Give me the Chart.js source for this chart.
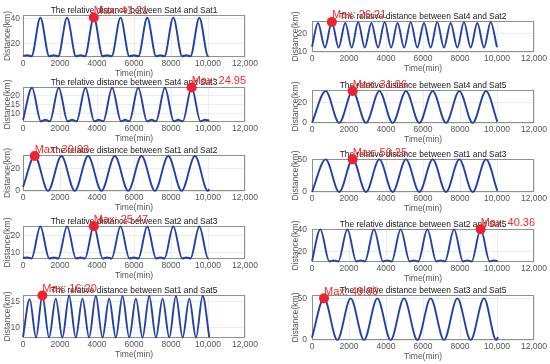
<!DOCTYPE html>
<html>
<head>
<meta charset="utf-8">
<script src="https://cdn.jsdelivr.net/npm/chart.js@4.4.1/dist/chart.umd.min.js"></script>
<style>
  html, body { margin: 0; padding: 0; background: #fff; }
  #fig { position: relative; width: 550px; height: 364px; overflow: hidden; }
  #fig canvas { position: absolute; }
</style>
</head>
<body>
<div id="fig"></div>
<script>
// shared x axis
const xTickValues = [0, 2000, 4000, 6000, 8000, 10000, 12000];
const xTickLabels = ['0', '2000', '4000', '6000', '8000', '10,000', '12,000'];

// Sat4 - Sat1
const t41 = [0, 250, 458, 938, 1418, 1660, 1903, 2383, 2863, 3105, 3347, 3827, 4307, 4549, 4791, 5271, 5751, 5993, 6235, 6715, 7195, 7419, 7643, 8123, 8603, 8827, 9051, 9531, 10011, 10040];
const d41 = [10.2, 10.7, 9.9, 41.0, 9.9, 10.7, 9.9, 41.1, 9.9, 10.7, 9.9, 41.21, 9.9, 10.7, 9.9, 41.1, 9.9, 10.7, 9.9, 41.0, 9.9, 10.7, 9.9, 41.1, 9.9, 10.7, 9.9, 41.0, 9.9, 10.0];
const y41 = [20, 40];

// Sat4 - Sat3
const t43 = [0, 487, 967, 1209, 1451, 1931, 2411, 2653, 2895, 3375, 3855, 4097, 4339, 4819, 5299, 5523, 5747, 6227, 6707, 6949, 7191, 7671, 8151, 8393, 8635, 9115, 9595, 9830, 10070];
const d43 = [6.0, 24.8, 5.3, 6.2, 5.3, 24.8, 5.3, 6.2, 5.3, 24.8, 5.3, 6.2, 5.3, 24.8, 5.3, 6.2, 5.3, 24.8, 5.3, 6.2, 5.3, 24.8, 5.3, 6.2, 5.3, 24.95, 5.3, 6.2, 5.7];
const y43 = [10, 15, 20];

// Sat1 - Sat2
const t12 = [0, 632, 1354, 2076, 2798, 3520, 4242, 4964, 5686, 6408, 7130, 7852, 8574, 9296, 9990, 10072];
const d12 = [3.5, 30.93, 0.2, 30.9, 0.2, 30.9, 0.2, 30.9, 0.2, 30.9, 0.2, 30.9, 0.2, 30.9, 0.2, 1.5];
const y12 = [0, 20];

// Sat2 - Sat3
const t23 = [0, 250, 458, 938, 1418, 1660, 1903, 2383, 2863, 3105, 3347, 3827, 4307, 4549, 4791, 5271, 5751, 5993, 6235, 6715, 7195, 7419, 7643, 8123, 8603, 8827, 9051, 9531, 10011, 10040];
const d23 = [6.6, 6.9, 6.3, 25.3, 6.3, 6.9, 6.3, 25.4, 6.3, 6.9, 6.3, 25.47, 6.3, 6.9, 6.3, 25.4, 6.3, 6.9, 6.3, 25.3, 6.3, 6.9, 6.3, 25.4, 6.3, 6.9, 6.3, 25.3, 6.3, 6.4];
const y23 = [10, 20];

// Sat1 - Sat5
const t15 = [0, 361, 704, 1047, 1408, 1769, 2130, 2491, 2852, 3213, 3574, 3935, 4296, 4657, 5018, 5379, 5740, 6101, 6462, 6823, 7184, 7545, 7906, 8267, 8628, 8989, 9350, 9711, 10072];
const d15 = [8.1, 15.5, 8.0, 16.2, 8.0, 15.6, 8.0, 16.15, 8.0, 15.6, 8.0, 16.1, 8.0, 15.6, 8.0, 16.1, 8.0, 15.6, 8.0, 16.1, 8.0, 15.6, 8.0, 16.1, 8.0, 15.6, 8.0, 16.1, 8.0];
const y15 = [10, 15];

// Sat4 - Sat2
const t42 = [0, 324, 700, 1075, 1437, 1800, 2147, 2495, 2852, 3210, 3569, 3928, 4276, 4625, 4980, 5335, 5694, 6054, 6412, 6770, 7132, 7495, 7855, 8216, 8576, 8937, 9297, 9658, 10000];
const d42 = [12.8, 25.6, 12.4, 26.21, 12.4, 25.6, 12.4, 26.1, 12.4, 25.6, 12.4, 26.1, 12.4, 25.6, 12.4, 26.1, 12.4, 25.6, 12.4, 26.1, 12.4, 25.6, 12.4, 26.1, 12.4, 25.6, 12.4, 26.1, 12.6];
const y42 = [10, 20];

// Sat4 - Sat5
const t45 = [0, 740, 1470, 2198, 2919, 3640, 4360, 5081, 5802, 6523, 7243, 7964, 8685, 9405, 10018];
const d45 = [0.3, 31.0, 0.1, 31.06, 0.1, 31.0, 0.1, 31.0, 0.1, 31.0, 0.1, 31.0, 0.1, 31.0, 1.2];
const y45 = [0, 20];

// Sat1 - Sat3
const t13 = [0, 740, 1470, 2198, 2919, 3640, 4360, 5081, 5802, 6523, 7243, 7964, 8685, 9405, 10018];
const d13 = [0.3, 50.2, 0.1, 50.25, 0.1, 50.2, 0.1, 50.2, 0.1, 50.2, 0.1, 50.2, 0.1, 50.2, 2.0];
const y13 = [0, 50];

// Sat2 - Sat5
const t25 = [0, 450, 940, 1180, 1420, 1910, 2400, 2630, 2861, 3351, 3840, 4070, 4303, 4793, 5283, 5510, 5744, 6234, 6724, 6955, 7186, 7676, 8166, 8397, 8627, 9117, 9607, 9830, 10036];
const d25 = [11.2, 40.2, 10.8, 11.8, 10.8, 40.2, 10.8, 11.8, 10.8, 40.2, 10.8, 11.8, 10.8, 40.2, 10.8, 11.8, 10.8, 40.2, 10.8, 11.8, 10.8, 40.2, 10.8, 11.8, 10.8, 40.36, 10.8, 11.8, 11.0];
const y25 = [20, 40];

// Sat3 - Sat5
const t35 = [0, 649, 1369, 2090, 2811, 3532, 4252, 4973, 5694, 6414, 7135, 7856, 8577, 9297, 9960, 10054];
const d35 = [3.0, 49.99, 0.1, 49.9, 0.1, 49.9, 0.1, 49.9, 0.1, 49.9, 0.1, 49.9, 0.1, 49.9, 0.1, 3.5];
const y35 = [0, 50];

// max markers (time, distance)
const maxTimes  = [3827, 9115, 632, 3827, 1047, 1075, 2198, 2198, 9117, 649];
const maxValues = [41.21, 24.95, 30.93, 25.47, 16.20, 26.21, 31.06, 50.25, 40.36, 49.99];

const titulos = [
    'The relative distance between Sat4 and Sat1',
    'The relative distance between Sat4 and Sat3',
    'The relative distance between Sat1 and Sat2',
    'The relative distance between Sat2 and Sat3',
    'The relative distance between Sat1 and Sat5',
    'The relative distance between Sat4 and Sat2',
    'The relative distance between Sat4 and Sat5',
    'The relative distance between Sat1 and Sat3',
    'The relative distance between Sat2 and Sat5',
    'The relative distance between Sat3 and Sat5'
];

// panel layout: plot box [left, top, right, bottom] and y range
const paneles = [
    { t: t41, d: d41, yt: y41, yMin: 9.3, yMax: 43.2, box: [23, 15, 245, 57] },
    { t: t43, d: d43, yt: y43, yMin: 4.9, yMax: 25.2, box: [23, 87, 245, 122] },
    { t: t12, d: d12, yt: y12, yMin: 0,   yMax: 31.8, box: [23, 155, 245, 191] },
    { t: t23, d: d23, yt: y23, yMin: 6.0, yMax: 25.6, box: [23, 226, 245, 259] },
    { t: t15, d: d15, yt: y15, yMin: 7.9, yMax: 16.3, box: [23, 295, 245, 338] },
    { t: t42, d: d42, yt: y42, yMin: 10,  yMax: 26.7, box: [312, 21, 534, 52] },
    { t: t45, d: d45, yt: y45, yMin: 0,   yMax: 32.1, box: [312, 90, 534, 123] },
    { t: t13, d: d13, yt: y13, yMin: 0,   yMax: 50.8, box: [312, 159, 534, 192] },
    { t: t25, d: d25, yt: y25, yMin: 10.3, yMax: 40.5, box: [312, 229, 534, 262] },
    { t: t35, d: d35, yt: y35, yMin: 0,   yMax: 54,   box: [312, 295, 534, 340] }
];

Chart.defaults.font.family = '"Liberation Sans", Arial, sans-serif';

const FAMILIA = '"Liberation Sans", Arial, sans-serif';

// box, title and the red "Max" label
const decorar = {
    id: 'decorar',
    beforeDatasetsDraw(chart, args, opts) {
        const { ctx, chartArea: a } = chart;
        ctx.save();
        ctx.strokeStyle = '#8f8f8f';
        ctx.lineWidth = 1;
        ctx.strokeRect(a.left + 0.5, a.top + 0.5, a.right - a.left - 1, a.bottom - a.top - 1);
        ctx.fillStyle = '#151515';
        ctx.font = '8.4px ' + FAMILIA;
        ctx.textAlign = 'center';
        ctx.textBaseline = 'middle';
        ctx.fillText(opts.titulo, (a.left + a.right) / 2, a.top - 4.5);
        ctx.restore();
    },
    afterDatasetsDraw(chart, args, opts) {
        const { ctx } = chart;
        const pt = chart.getDatasetMeta(0).data[0];
        ctx.save();
        ctx.fillStyle = '#f02a2a';
        ctx.font = '11px ' + FAMILIA;
        ctx.textAlign = 'left';
        ctx.textBaseline = 'middle';
        ctx.fillText('Max: ' + opts.maximo.toFixed(2), pt.x, pt.y - 6.5);
        ctx.restore();
    }
};

const fig = document.getElementById('fig');

function dibujarPanel(p, i) {
    const [l, t, r, b] = p.box;
    const anchoY = l < 275 ? 23 : 24;
    const padTop = 14, padRight = 28, altoX = 22;

    const cv = document.createElement('canvas');
    cv.width  = anchoY + (r - l) + padRight;
    cv.height = padTop + (b - t) + altoX;
    cv.style.left = (l - anchoY) + 'px';
    cv.style.top  = (t - padTop) + 'px';
    fig.appendChild(cv);

    new Chart(cv.getContext('2d'), {
        type: 'line',
        data: {
            datasets: [
                {
                    data: [{ x: maxTimes[i], y: maxValues[i] }],
                    showLine: false,
                    pointRadius: 5,
                    pointBackgroundColor: '#ee2230',
                    pointBorderWidth: 0,
                    clip: false,
                    order: 0
                },
                {
                    data: p.t.map((tt, k) => ({ x: tt, y: p.d[k] })),
                    borderColor: '#2241a8',
                    borderWidth: 1.9,
                    pointRadius: 0,
                    fill: false,
                    cubicInterpolationMode: 'monotone',
                    clip: 4,
                    order: 1
                }
            ]
        },
        options: {
            responsive: false,
            animation: false,
            events: [],
            devicePixelRatio: 1,
            layout: { padding: { top: padTop, right: padRight, left: 0, bottom: 0 } },
            plugins: {
                legend: { display: false },
                tooltip: { enabled: false },
                decorar: { titulo: titulos[i], maximo: maxValues[i] }
            },
            scales: {
                x: {
                    type: 'linear', min: 0, max: 12000,
                    afterBuildTicks: s => { s.ticks = xTickValues.map(v => ({ value: v })); },
                    afterFit: s => { s.height = altoX; },
                    grid: { color: '#ececec', drawTicks: false },
                    border: { display: false },
                    ticks: {
                        autoSkip: false, maxRotation: 0, padding: 2,
                        color: '#555', font: { size: 8.5 },
                        callback: v => xTickLabels[xTickValues.indexOf(v)]
                    },
                    title: { display: true, text: 'Time(min)', color: '#555', font: { size: 8.5 }, padding: 0 }
                },
                y: {
                    type: 'linear', min: p.yMin, max: p.yMax,
                    afterBuildTicks: s => { s.ticks = p.yt.map(v => ({ value: v })); },
                    afterFit: s => { s.width = anchoY; },
                    grid: { color: '#ececec', drawTicks: false },
                    border: { display: false },
                    ticks: { color: '#555', font: { size: 8.5 }, padding: l < 275 ? 3 : 5 },
                    title: { display: true, text: 'Distance(km)', color: '#555', font: { size: 8.5 }, padding: { top: 3, bottom: 0 } }
                }
            }
        },
        plugins: [decorar]
    });
}

paneles.forEach(dibujarPanel);
</script>
</body>
</html>
